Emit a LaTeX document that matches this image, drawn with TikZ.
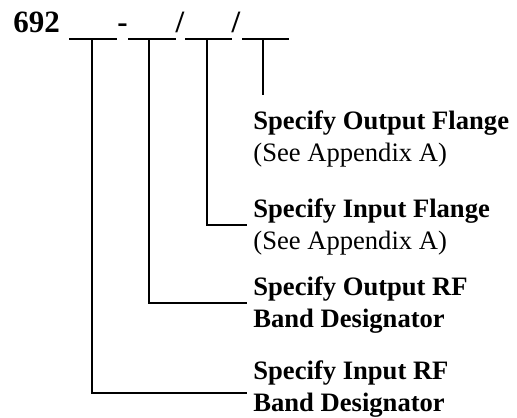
\documentclass[tikz,border=0pt]{standalone}
\usepackage{fontspec}
\setmainfont{Liberation Serif}

\begin{document}
\begin{tikzpicture}[x=0.5pt,y=-0.5pt]
		\tikzset{hdr/.style = {anchor=base,inner sep=0pt,font=\fontsize{15.5}{18}\selectfont\bfseries}}
		\tikzset{lbl/.style = {anchor=base west,inner sep=0pt,align=left,font=\fontsize{13.3}{15.8}\selectfont}}
		\tikzset{lead/.style = {line width=1.3pt}}
		\useasboundingbox (0,0) rectangle (517,417);
		
		\node[hdr,anchor=base west] (num) at (13,33) {692};
		\node[hdr] (dash) at (122.5,33) {-};
		\node[hdr] (sl1) at (180,33) {/};
		\node[hdr] (sl2) at (236,33) {/};
		
		\draw[lead] (69,39) -- (117,39);
		\draw[lead] (128,39) -- (176,39);
		\draw[lead] (185,39) -- (232,39);
		\draw[lead] (242,39) -- (289,39);
		
		% base anchor sits on the second line
		\node[lbl] (outfl) at (253,161) {\textbf{Specify Output Flange}\\(See Appendix A)};
		\node[lbl] (infl) at (253,249) {\textbf{Specify Input Flange}\\(See Appendix A)};
		\node[lbl] (outrf) at (253,327) {\textbf{Specify Output RF}\\\textbf{Band Designator}};
		\node[lbl] (inrf) at (253,411) {\textbf{Specify Input RF}\\\textbf{Band Designator}};
		
		\coordinate (u1) at (92,39);
		\coordinate (u2) at (149,39);
		\coordinate (u3) at (207,39);
		\coordinate (u4) at (263,39);
		\coordinate (e4) at (263,95);
		\coordinate (e3) at (247,225);
		\coordinate (e2) at (247,303);
		\coordinate (e1) at (247,393);
		
		\draw[lead] (u4) -- (e4);
		\draw[lead] (u3) |- (e3);
		\draw[lead] (u2) |- (e2);
		\draw[lead] (u1) |- (e1);
\end{tikzpicture}
\end{document}
